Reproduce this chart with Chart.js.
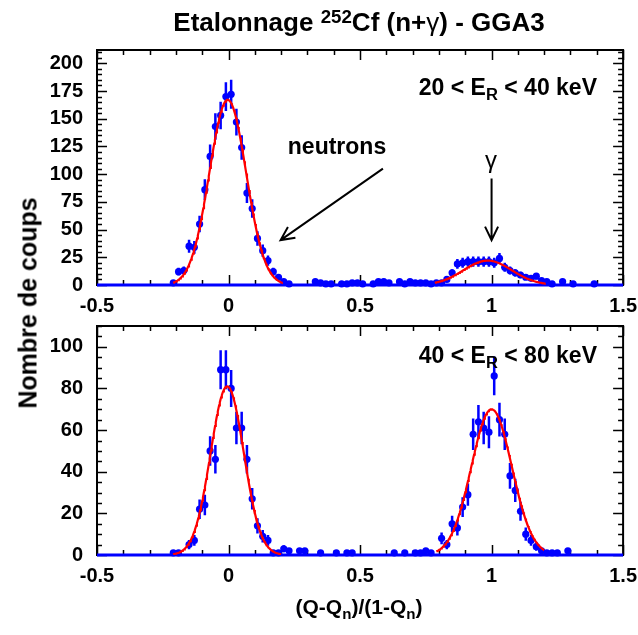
<!DOCTYPE html>
<html><head><meta charset="utf-8">
<script src="https://cdn.jsdelivr.net/npm/chart.js@4.4.0/dist/chart.umd.min.js"></script>
<style>
html,body{margin:0;padding:0;background:#fff;}
body{width:638px;height:635px;position:relative;overflow:hidden;font-family:"Liberation Sans",Arial,Helvetica,sans-serif;}
canvas{position:absolute;left:0;}
.t{position:absolute;white-space:nowrap;color:#000;font-weight:bold;line-height:1;}
.c{transform:translate(-50%,-50%);}
.r{transform:translateY(-50%);}
sub.s{font-size:0.72em;vertical-align:-0.35em;line-height:0;}
sup.s{font-size:0.72em;vertical-align:0.45em;line-height:0;}
</style></head><body>
<canvas id="c1" width="646" height="330" style="top:0px"></canvas>
<canvas id="c2" width="646" height="335" style="top:300px"></canvas>

<div class="t c" style="left:359px;top:22px;font-size:26px">Etalonnage <sup class="s">252</sup>Cf (n+<span style="font-weight:normal">γ</span>) - GGA3</div>
<div class="t r" style="right:41px;top:87px;font-size:23px">20 &lt; E<sub class="s">R</sub> &lt; 40 keV</div>
<div class="t c" style="left:337px;top:146px;font-size:23px">neutrons</div>
<div class="t c" style="left:491px;top:160px;font-size:24px;font-weight:normal">γ</div>
<div class="t r" style="right:41px;top:355px;font-size:23px">40 &lt; E<sub class="s">R</sub> &lt; 80 keV</div>
<div class="t c" style="left:28px;top:303px;font-size:25px;transform:translate(-50%,-50%) rotate(-90deg)">Nombre de coups</div>
<div class="t c" style="left:359px;top:606px;font-size:21px">(Q-Q<sub class="s">n</sub>)/(1-Q<sub class="s">n</sub>)</div>

<script>
// ---------- data ----------
const xRange = [-0.5, 1.5];
const xTickLabels = [-0.5, 0, 0.5, 1, 1.5];

// Top panel: 20 < E_R < 40 keV
const topX = [-0.21,-0.19,-0.17,-0.15,-0.13,-0.11,-0.09,-0.07,-0.05,-0.03,-0.01,0.01,0.03,0.05,0.07,0.09,0.11,0.13,0.15,0.17,0.19,0.21,0.23,
  0.33,0.35,0.37,0.39,0.43,0.45,0.47,0.49,0.51,0.55,0.57,0.59,0.61,0.65,0.67,0.69,0.71,0.73,0.75,0.77,0.79,
  0.81,0.83,0.85,0.87,0.89,0.91,0.93,0.95,0.97,0.99,1.01,1.03,1.05,1.07,1.09,1.11,1.13,1.15,1.17,1.19,1.21,1.23,1.27,1.31,1.39];
const topY = [2,12,13,35,34,55,86,116,143,153,170,172,147,124,83,69,42,31,22,12,7,3,1,
  3,2,1,1,1,1,2,2,1,1,3,3,2,3,1,3,2,2,2,1,2,
  2,5,11,19,20,21,21,21,21,21,20,24,16,13,11,9,7,6,8,4,3,1,3,1,1];
const topErr = [1.4,3.5,3.6,5.9,5.8,7.4,9.3,10.8,12,12.4,13,13.1,12.1,11.1,9.1,8.3,6.5,5.6,4.7,3.5,2.6,1.7,1,
  1.7,1.4,1,1,1,1,1.4,1.4,1,1,1.7,1.7,1.4,1.7,1,1.7,1.4,1.4,1.4,1,1.4,
  1.4,2.2,3.3,4.4,4.5,4.6,4.6,4.6,4.6,4.6,4.5,4.9,4,3.6,3.3,3,2.6,2.4,2.8,2,1.7,1,1.7,1,1];
const topYTicks = [0,25,50,75,100,125,150,175,200];
const topYMax = 212;
// Gaussian fits [amplitude, mean, sigma, from, to]
const topFitN = [167, -0.003, 0.070, -0.21, 0.205];
const topFitG = [22, 0.985, 0.092, 0.785, 1.205];

// Bottom panel: 40 < E_R < 80 keV
const botX = [-0.21,-0.19,-0.15,-0.13,-0.11,-0.09,-0.07,-0.05,-0.03,-0.01,0.01,0.03,0.05,0.07,0.09,0.11,0.13,0.15,0.17,0.19,0.21,0.23,0.27,0.29,
  0.35,0.41,0.45,0.47,0.63,0.67,0.71,0.73,0.75,0.77,
  0.81,0.83,0.85,0.87,0.89,0.91,0.93,0.95,0.97,0.99,1.01,1.03,1.05,1.07,1.09,1.11,1.13,1.15,1.17,1.19,1.21,1.23,1.25,1.29];
const botY = [1,1,5,7,22,24,50,46,89,89,80,61,61,46,27,14,9,7,1,1,3,2,2,2,
  1,1,1,1,1,1,1,1,2,1,
  8,5,15,13,23,29,58,64,61,59,86,65,58,38,31,21,10,7,4,2,1,1,1,2];
const botErr = [1,1,2.2,2.6,4.7,4.9,7.1,6.8,9.4,9.4,8.9,7.8,7.8,6.8,5.2,3.7,3,2.6,1,1,1.7,1.4,1.4,1.4,
  1,1,1,1,1,1,1,1,1.4,1,
  2.8,2.2,3.9,3.6,4.8,5.4,7.6,8,7.8,7.7,9.3,8.1,7.6,6.2,5.6,4.6,3.2,2.6,2,1.4,1,1,1,1.4];
const botYTicks = [0,20,40,60,80,100];
const botYMax = 110;
const botFitN = [81, -0.005, 0.063, -0.21, 0.2];
const botFitG = [70, 1.0, 0.077, 0.79, 1.2];

// annotation arrows in data coordinates [x0,y0,x1,y1] (tail -> head)
const topArrows = [[0.587,105,0.198,40.5],[1.0,96,1.0,40.5]];

// ---------- helpers ----------
function fitCurve(p){
  const [A,m,s,lo,hi] = p, pts = [];
  const n = 160;
  for (let i=0;i<=n;i++){ const x = lo + (hi-lo)*i/n; pts.push({x, y: A*Math.exp(-0.5*((x-m)/s)**2)}); }
  return pts;
}
const FONT = {family:"'Liberation Sans', Arial, sans-serif", size:20, weight:'bold'};

const framePlugin = {
  id:'frame',
  beforeDatasetsDraw(chart){
    const o = chart.options.plugins.frame;
    const {ctx, chartArea:a, scales:{x,y}} = chart;
    ctx.save();
    ctx.strokeStyle = '#000';
    ctx.lineWidth = 2;
    ctx.strokeRect(a.left, a.top, a.right-a.left, a.bottom-a.top);
    ctx.lineWidth = 1.5;
    ctx.beginPath();
    for (let k=0;k<=20;k++){
      const v = xRange[0] + k*0.1, px = Math.round(x.getPixelForValue(v))+0.5;
      const L = (k%5===0) ? 10 : 5;
      ctx.moveTo(px,a.bottom); ctx.lineTo(px,a.bottom-L);
      ctx.moveTo(px,a.top); ctx.lineTo(px,a.top+L);
    }
    for (let v=0; v<=o.yMax; v+=o.minor){
      const py = Math.round(y.getPixelForValue(v))+0.5;
      const L = (v%o.major===0) ? 10 : 5;
      ctx.moveTo(a.left,py); ctx.lineTo(a.left+L,py);
      ctx.moveTo(a.right,py); ctx.lineTo(a.right-L,py);
    }
    ctx.stroke();
    ctx.restore();
  },
  afterDatasetsDraw(chart){
    const o = chart.options.plugins.frame;
    if (!o.arrows) return;
    const {ctx, scales:{x,y}} = chart;
    ctx.save(); ctx.strokeStyle='#000'; ctx.lineWidth=2;
    o.arrows.forEach(([x0,y0,x1,y1])=>{
      const p0=[x.getPixelForValue(x0),y.getPixelForValue(y0)], p1=[x.getPixelForValue(x1),y.getPixelForValue(y1)];
      const ang = Math.atan2(p1[1]-p0[1], p1[0]-p0[0]), h=15, w=0.45;
      ctx.beginPath();
      ctx.moveTo(p0[0],p0[1]); ctx.lineTo(p1[0],p1[1]);
      ctx.moveTo(p1[0]-h*Math.cos(ang-w), p1[1]-h*Math.sin(ang-w)); ctx.lineTo(p1[0],p1[1]);
      ctx.lineTo(p1[0]-h*Math.cos(ang+w), p1[1]-h*Math.sin(ang+w));
      ctx.stroke();
    });
    ctx.restore();
  },
  beforeDatasetDraw(chart, args){
    const ds = chart.data.datasets[args.index];
    if (!ds.errors) return;
    const {ctx, scales:{x,y}} = chart;
    ctx.save(); ctx.strokeStyle='#0000ff'; ctx.lineWidth=2.5;
    ctx.beginPath();
    ds.data.forEach((p,i)=>{
      const e = ds.errors[i], px = x.getPixelForValue(p.x);
      ctx.moveTo(px, y.getPixelForValue(p.y-e)); ctx.lineTo(px, y.getPixelForValue(p.y+e));
    });
    ctx.stroke(); ctx.restore();
  }
};

function makeChart(id, xs, ys, errs, fits, yMax, yTicks, major, canvasH, areaTop, areaBottom, arrows){
  const pts = xs.map((x,i)=>({x, y: ys[i]}));
  const datasets = [];
  fits.forEach(f=>datasets.push({data: fitCurve(f), showLine:true, borderColor:'#ff0000', borderWidth:2.2, pointRadius:0, fill:false, tension:0}));
  datasets.push({data: pts, errors: errs, showLine:false, pointRadius:3.6, pointBackgroundColor:'#0000ff', pointBorderWidth:0, clip:false});
  datasets.push({data: [{x:xRange[0],y:0},{x:xRange[1],y:0}], showLine:true, borderColor:'#0000ff', borderWidth:3, pointRadius:0, clip:false});
  return new Chart(document.getElementById(id), {
    type:'scatter',
    data:{datasets},
    plugins:[framePlugin],
    options:{
      responsive:false, animation:false, events:[],
      layout:{padding:{left:0, right:8, top:areaTop, bottom:0}},
      plugins:{legend:{display:false}, tooltip:{enabled:false}, frame:{yMax, major, minor:5, arrows}},
      scales:{
        x:{type:'linear', min:xRange[0], max:xRange[1],
          afterBuildTicks:s=>{s.ticks = xTickLabels.map(v=>({value:v}));},
          afterFit:s=>{s.height = canvasH - areaBottom;},
          ticks:{font:FONT, color:'#000', padding:9, maxRotation:0, autoSkip:false,
            callback:v=>String(Math.round(v*10)/10)},
          grid:{display:false, drawTicks:false}, border:{display:false}},
        y:{type:'linear', min:0, max:yMax,
          afterBuildTicks:s=>{s.ticks = yTicks.map(v=>({value:v}));},
          afterFit:s=>{s.width = 97;},
          ticks:{font:FONT, color:'#000', padding:14, callback:v=>String(v)},
          grid:{display:false, drawTicks:false}, border:{display:false}}
      }
    }
  });
}

makeChart('c1', topX, topY, topErr, [topFitN, topFitG], topYMax, topYTicks, 25, 330, 50, 285, topArrows);
makeChart('c2', botX, botY, botErr, [botFitN, botFitG], botYMax, botYTicks, 20, 335, 18, 255, null);
</script>
</body></html>
